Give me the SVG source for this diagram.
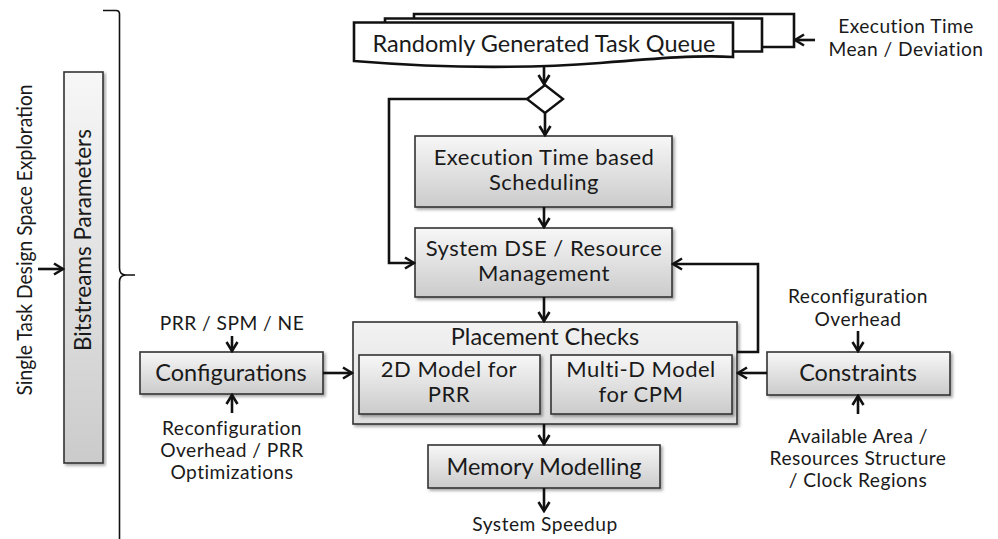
<svg xmlns="http://www.w3.org/2000/svg" width="998" height="539" viewBox="0 0 998 539">
  <defs>
    <linearGradient id="boxFill" x1="0" y1="0" x2="0" y2="1">
      <stop offset="0" stop-color="#f7f7f7"/>
      <stop offset="1" stop-color="#cbcbcb"/>
    </linearGradient>
    <linearGradient id="outerFill" x1="0" y1="0" x2="0" y2="1">
      <stop offset="0" stop-color="#f2f2f2"/>
      <stop offset="1" stop-color="#dedede"/>
    </linearGradient>
    <filter id="shadow" x="-10%" y="-10%" width="120%" height="130%">
      <feDropShadow dx="2" dy="2" stdDeviation="1.5" flood-color="#000" flood-opacity="0.35"/>
    </filter>
    <marker id="arrow" markerUnits="userSpaceOnUse" markerWidth="16" markerHeight="16" viewBox="0 0 16 16" refX="14" refY="8" orient="auto">
      <path d="M5,2.5 L14,8 L5,13.5" fill="none" stroke="#111" stroke-width="2.6" stroke-linejoin="miter"/>
    </marker>
  </defs>
  <style>
    text { font-family: Lato, "Open Sans", "DejaVu Sans", sans-serif; fill: #1a1a1a; }
    .box { fill: url(#boxFill); stroke: #333; stroke-width: 1.6; filter: url(#shadow); }
    .outer { fill: url(#outerFill); stroke: #333; stroke-width: 1.6; filter: url(#shadow); }
    .doc { fill: #fff; stroke: #111; stroke-width: 2.6; }
    .lbl { font-size: 23.5px; text-anchor: middle; }
    .lbl2 { font-size: 22px; letter-spacing: 0.5px; text-anchor: middle; }
    .note { font-size: 19.2px; letter-spacing: 0.45px; text-anchor: middle; }
    .conn { fill: none; stroke: #111; stroke-width: 2.6; }
  </style>

  <!-- Brace grouping the flow -->
  <g id="brace">
    <path d="M103,10.5 L116,10.5 Q119.5,10.5 119.5,14 L119.5,268 Q119.5,275 126,275 L135,275 M126,275 Q119.5,275 119.5,282 L119.5,539" fill="none" stroke="#111" stroke-width="1.6"/>
  </g>

  <g id="side-label">
    <text font-size="22" text-anchor="middle" transform="translate(32,240) rotate(-90) scale(0.875,1)">Single Task Design Space Exploration</text>
  </g>

  <g id="bitstreams">
    <rect class="box" x="64" y="72" width="39" height="391"/>
    <text font-size="22.5" text-anchor="middle" transform="translate(91,240) rotate(-90)">Bitstreams Parameters</text>
  </g>

  <!-- Stacked task queue documents -->
  <g id="task-queue">
    <path class="doc" d="M414,14 L794,14 L794,47 L760,47 L414,47 Z"/>
    <path class="doc" d="M385,18.5 L762,18.5 L762,51.5 L733,51.5 L385,51.5 Z"/>
    <path class="doc" d="M354,22.5 L733,22.5 L733,57 C700,55 660,58 600,63 C520,69 440,68 354,61 Z"/>
    <text class="lbl" x="544" y="52">Randomly Generated Task Queue</text>
  </g>

  <g id="exec-input">
    <text class="note" x="906" y="33">Execution Time</text>
    <text class="note" x="906" y="56">Mean / Deviation</text>
  </g>

  <g id="decision">
    <path d="M545,85 L563,99 L545,113 L527,99 Z" fill="#fff" stroke="#111" stroke-width="2.4"/>
  </g>

  <g id="scheduling">
    <rect class="box" x="415" y="136" width="257" height="71"/>
    <text class="lbl2" x="544" y="165">Execution Time based</text>
    <text class="lbl2" x="544" y="190">Scheduling</text>
  </g>

  <g id="system-dse">
    <rect class="box" x="415" y="228" width="257" height="69"/>
    <text class="lbl2" x="544" y="256">System DSE / Resource</text>
    <text class="lbl2" x="544" y="281">Management</text>
  </g>

  <g id="placement">
    <rect class="outer" x="353" y="322" width="384" height="102"/>
    <text class="lbl" x="545" y="345">Placement Checks</text>
  </g>

  <g id="model-2d">
    <rect class="box" x="359" y="355" width="181" height="59"/>
    <text class="lbl2" x="449" y="377">2D Model for</text>
    <text class="lbl2" x="449" y="402">PRR</text>
  </g>

  <g id="model-multid">
    <rect class="box" x="551" y="355" width="181" height="59"/>
    <text class="lbl2" x="641" y="377">Multi-D Model</text>
    <text class="lbl2" x="641" y="402">for CPM</text>
  </g>

  <g id="memory">
    <rect class="box" x="428" y="445" width="232" height="43"/>
    <text class="lbl" x="544" y="475">Memory Modelling</text>
  </g>

  <g id="speedup">
    <text class="note" x="545" y="531">System Speedup</text>
  </g>

  <g id="configurations">
    <rect class="box" x="140" y="352" width="183" height="42"/>
    <text class="lbl" x="231" y="381">Configurations</text>
    <text class="note" x="232" y="330">PRR / SPM / NE</text>
    <text class="note" x="232" y="435">Reconfiguration</text>
    <text class="note" x="232" y="457">Overhead / PRR</text>
    <text class="note" x="232" y="479">Optimizations</text>
  </g>

  <g id="constraints">
    <rect class="box" x="767" y="352" width="183" height="43"/>
    <text class="lbl" x="858" y="381">Constraints</text>
    <text class="note" x="858" y="303">Reconfiguration</text>
    <text class="note" x="858" y="326">Overhead</text>
    <text class="note" x="858" y="443">Available Area /</text>
    <text class="note" x="858" y="465">Resources Structure</text>
    <text class="note" x="858" y="487">/ Clock Regions</text>
  </g>

  <g id="connectors">
    <path class="conn" d="M38,269 L63,269" marker-end="url(#arrow)"/>
    <path class="conn" d="M815,40 L795,40" marker-end="url(#arrow)"/>
    <path class="conn" d="M544,65 L544,84" marker-end="url(#arrow)"/>
    <path class="conn" d="M545,113 L545,135" marker-end="url(#arrow)"/>
    <path class="conn" d="M527,99 L389,99 L389,263 L414,263" marker-end="url(#arrow)"/>
    <path class="conn" d="M544,207 L544,227" marker-end="url(#arrow)"/>
    <path class="conn" d="M544,297 L544,321" marker-end="url(#arrow)"/>
    <path class="conn" d="M737,352 L758,352 L758,264 L673,264" marker-end="url(#arrow)"/>
    <path class="conn" d="M323,373 L352,373" marker-end="url(#arrow)"/>
    <path class="conn" d="M767,373 L738,373" marker-end="url(#arrow)"/>
    <path class="conn" d="M544,424 L544,444" marker-end="url(#arrow)"/>
    <path class="conn" d="M544,488 L544,511" marker-end="url(#arrow)"/>
    <path class="conn" d="M232,336 L232,351" marker-end="url(#arrow)"/>
    <path class="conn" d="M232,413 L232,395" marker-end="url(#arrow)"/>
    <path class="conn" d="M858,331 L858,351" marker-end="url(#arrow)"/>
    <path class="conn" d="M858,414 L858,396" marker-end="url(#arrow)"/>
  </g>
</svg>
